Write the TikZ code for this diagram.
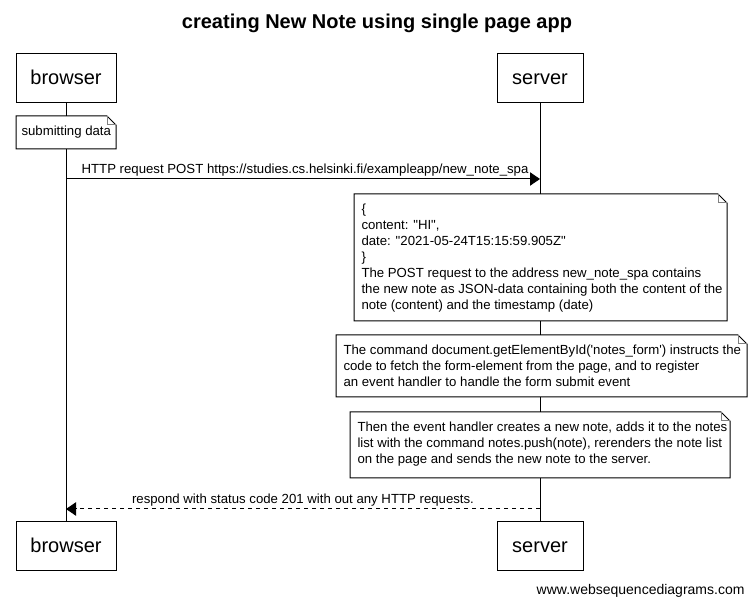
\documentclass[tikz,border=0pt]{standalone}
\usepackage{fontspec}
\setmainfont{Liberation Sans}
\usetikzlibrary{arrows.meta}
\tikzset{actor/.style={draw,line width=0.75pt,minimum width=#1,minimum height=36.75pt,inner sep=0pt,
    text height=12pt,text depth=3pt,font=\fontsize{15}{18}\selectfont},
  notetext/.style={anchor=north west,align=left,inner sep=0pt,font=\fontsize{9.9}{12}\selectfont},
  msg/.style={font=\fontsize{9.9}{11}\selectfont},
  fold/.style={draw=gray,line width=0.75pt}}

\newcommand{\notebox}[4]{% x1, y1, x2, y2
  \fill[white] (#1,#2) rectangle (#3,#4);
  \draw[line width=0.75pt] (#1,#2) -- (#3-9,#2) -- (#3,#2+9) -- (#3,#4) -- (#1,#4) -- cycle;
  \draw[fold] (#3-9,#2) -- (#3-9,#2+9) -- (#3,#2+9);
}

\begin{document}
\begin{tikzpicture}[x=0.75pt,y=-0.75pt,line width=0.75pt]
      \useasboundingbox (0,0) rectangle (754,605);
      \pgfmathsetmacro{\browserx}{66}
      \pgfmathsetmacro{\serverx}{540}

      \node[font=\bfseries\fontsize{15}{18}\selectfont] (title) at (377,23) {creating New Note using single page app};

      \node[actor=75pt] (browsertop) at (\browserx,78.5) {browser};
      \node[actor=64.5pt] (servertop) at (\serverx,78.5) {server};
      \node[actor=75pt] (browserbot) at (\browserx,546.5) {browser};
      \node[actor=64.5pt] (serverbot) at (\serverx,546.5) {server};

      % lifelines
      \draw (browsertop) -- (browserbot);
      \draw (servertop) -- (serverbot);

      % notes
      \notebox{16}{116}{116}{149}
      \node[notetext,anchor=west] (submit) at (21,132.5) {submitting data};

      \coordinate (req start) at (\browserx,179);
      \coordinate (req end) at (\serverx,179);
      \draw[-{Triangle[length=7.5pt,width=10pt]}] (req start) -- (req end)
        node[msg,pos=0,above right,xshift=8pt,inner ysep=2pt] (reqlabel) {HTTP request POST https://studies.cs.helsinki.fi/exampleapp/new\_note\_spa};

      \notebox{354}{194}{727}{321}
      \node[notetext] (json) at (361,203) {\{\\content: \textquotedbl HI\textquotedbl,\\date: \textquotedbl 2021-05-24T15:15:59.905Z\textquotedbl\\\}\\The POST request to the address new\_note\_spa contains\\the new note as JSON-data containing both the content of the\\note (content) and the timestamp (date)};

      \notebox{336}{335}{747}{397}
      \node[notetext] (form) at (343,344) {The command document.getElementById(\textquotesingle notes\_form\textquotesingle) instructs the\\code to fetch the form-element from the page, and to register\\an event handler to handle the form submit event};

      \notebox{350}{412}{730}{478}
      \node[notetext] (handler) at (357,421) {Then the event handler creates a new note, adds it to the notes\\list with the command notes.push(note), rerenders the note list\\on the page and sends the new note to the server.};

      \coordinate (resp start) at (\serverx,509);
      \coordinate (resp end) at (\browserx,509);
      \draw[dashed,-{Triangle[length=7.5pt,width=10pt]}] (resp start) -- (resp end)
        node[msg,midway,above,inner ysep=2pt] (resplabel) {respond with status code 201 with out any HTTP requests.};

      \node[anchor=east,inner sep=0pt,font=\fontsize{10.5}{12}\selectfont] (credit) at (745,591) {www.websequencediagrams.com};
\end{tikzpicture}
\end{document}
